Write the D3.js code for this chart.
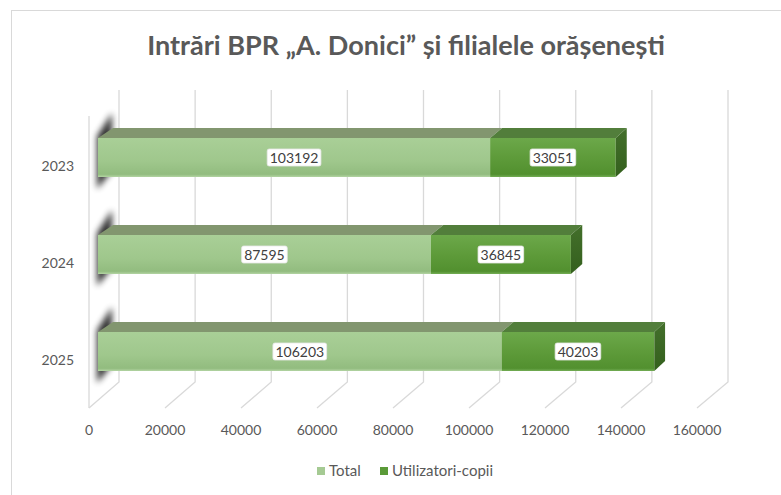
<!DOCTYPE html>
<meta charset="utf-8">
<style>
  body { margin: 0; background: #fff; }
  text { font-family: Lato, "Open Sans", sans-serif; fill: #595959; }
  .grid { stroke: #d9d9d9; stroke-width: 1.3; fill: none; }
  .tick-label { font-size: 14px; }
  .cat-label { font-size: 14px; }
  .data-label { font-size: 14px; fill: #404040; }
  .legend-label { font-size: 15px; }
  .title { font-weight: bold; }
</style>
<body>
<script src="https://d3js.org/d3.v7.min.js"></script>
<script>
// data
var years = ["2023", "2024", "2025"];
var total = [103192, 87595, 106203];
var copii = [33051, 36845, 40203];
var seriesNames = ["Total", "Utilizatori-copii"];
var tickValues = [0, 20000, 40000, 60000, 80000, 100000, 120000, 140000, 160000];
var titleText = "Intrări BPR „A. Donici” și filialele orășenești";

var width = 781,
    height = 495;

var svg = d3.select("body").append("svg")
    .attr("width", width)
    .attr("height", height);

var defs = svg.append("defs");

function vGrad(id, stops) {
  var g = defs.append("linearGradient").attr("id", id)
      .attr("x1", 0).attr("y1", 0).attr("x2", 0).attr("y2", 1);
  stops.forEach(function(s) {
    g.append("stop").attr("offset", s[0]).attr("stop-color", s[1]);
  });
}
vGrad("gTotal", [[0, "#a9cf97"], [0.6, "#9fc78c"], [0.93, "#92bc7f"], [1, "#b3d4a3"]]);
vGrad("gCopii", [[0, "#6ca84a"], [0.5, "#5e9b3a"], [0.93, "#52902f"], [1, "#74ad55"]]);
vGrad("gSide", [[0, "#436f2b"], [1, "#34601d"]]);

defs.append("filter").attr("id", "blur")
    .attr("x", "-100%").attr("y", "-50%").attr("width", "300%").attr("height", "200%")
  .append("feGaussianBlur").attr("stdDeviation", 3);

// chart border
svg.append("rect")
    .attr("x", 11.5).attr("y", 10.5)
    .attr("width", 790).attr("height", 500)
    .attr("fill", "none").attr("stroke", "#d9d9d9");

// title
var title = svg.append("text")
    .attr("class", "title")
    .attr("x", 406).attr("y", 55)
    .attr("text-anchor", "middle")
    .style("font-size", "24px")
    .text(titleText);
var tw = title.node().getComputedTextLength();
title.style("font-size", (24 * 518 / tw) + "px");

// scales: back wall, floor front edge, bar front face
var xBack = d3.scaleLinear().domain([0, 160000]).range([119, 728]);
var xFront = d3.scaleLinear().domain([0, 160000]).range([89, 697]);
var xBar = d3.scaleLinear().domain([0, 160000]).range([98, 706]);
var y = d3.scaleBand().domain(years).range([109, 400]);

var wallTop = 90, floorBack = 382, floorFront = 408;
var barH = 39, depthY = -10;
var depthX = d3.scaleLinear().domain([98, 620]).range([15, 11]);

// gridlines on back wall and floor
var grid = svg.append("g");
grid.selectAll(".gl")
    .data(tickValues)
  .enter().append("path")
    .attr("class", "grid")
    .attr("d", function(d) {
      return "M" + xBack(d) + "," + wallTop + "V" + floorBack + "L" + xFront(d) + "," + floorFront;
    });
// front edge of the side wall
grid.append("path")
    .attr("class", "grid")
    .attr("d", "M" + xFront(0) + ",116V" + floorFront);

// axis tick labels
svg.selectAll(".tick-label")
    .data(tickValues)
  .enter().append("text")
    .attr("class", "tick-label")
    .attr("x", function(d) { return xFront(d); })
    .attr("y", 435)
    .attr("text-anchor", "middle")
    .text(function(d) { return d; });

// category labels
svg.selectAll(".cat-label")
    .data(years)
  .enter().append("text")
    .attr("class", "cat-label")
    .attr("x", 74)
    .attr("y", function(d) { return y(d) + y.bandwidth() / 2 + 13.5; })
    .attr("text-anchor", "end")
    .text(function(d) { return d; });

function faceTop(i) { return y(years[i]) + (y.bandwidth() - barH) / 2; }

// shadows of the bar ends
svg.selectAll(".shadow")
    .data(years)
  .enter().append("path")
    .attr("class", "shadow")
    .attr("fill", "#000")
    .attr("opacity", 0.8)
    .attr("filter", "url(#blur)")
    .attr("d", function(d, i) {
      var x0 = xBar(0), t = faceTop(i), b = t + barH;
      return "M" + (x0 - 1) + "," + (b + 12) + "V" + (t - 2) +
             "L" + (x0 + 14) + "," + (t - 25) + "V" + (b - 6) + "Z";
    });

// bars
var segs = [];
years.forEach(function(yr, i) {
  segs.push({ i: i, s: 0, v0: 0, v1: total[i], fill: "url(#gTotal)", topFill: "#82966f" });
  segs.push({ i: i, s: 1, v0: total[i], v1: total[i] + copii[i], fill: "url(#gCopii)", topFill: "#527e3b" });
});

var bar = svg.selectAll(".seg")
    .data(segs)
  .enter().append("g")
    .attr("class", "seg");

bar.append("path")
    .attr("fill", function(d) { return d.topFill; })
    .attr("d", function(d) {
      var x0 = xBar(d.v0), x1 = xBar(d.v1), t = faceTop(d.i);
      return "M" + x0 + "," + t + "L" + (x0 + depthX(x0)) + "," + (t + depthY) +
             "L" + (x1 + depthX(x1)) + "," + (t + depthY) + "L" + x1 + "," + t + "Z";
    });

bar.append("rect")
    .attr("fill", function(d) { return d.fill; })
    .attr("x", function(d) { return xBar(d.v0); })
    .attr("y", function(d) { return faceTop(d.i); })
    .attr("width", function(d) { return xBar(d.v1) - xBar(d.v0); })
    .attr("height", barH);

bar.filter(function(d) { return d.s === 1; }).append("path")
    .attr("fill", "url(#gSide)")
    .attr("d", function(d) {
      var x1 = xBar(d.v1), t = faceTop(d.i), b = t + barH, dx = depthX(x1);
      return "M" + x1 + "," + t + "L" + (x1 + dx) + "," + (t + depthY) +
             "V" + (b + depthY) + "L" + x1 + "," + b + "Z";
    });

// data labels
var lab = bar.append("g")
    .attr("transform", function(d) {
      return "translate(" + ((xBar(d.v0) + xBar(d.v1)) / 2) + "," + (faceTop(d.i) + barH / 2) + ")";
    });
lab.append("text")
    .attr("class", "data-label")
    .attr("text-anchor", "middle")
    .attr("dy", "0.36em")
    .text(function(d) { return d.v1 - d.v0; })
    .each(function() {
      var w = this.getComputedTextLength();
      d3.select(this.parentNode).insert("rect", "text")
          .attr("x", -w / 2 - 2.5).attr("y", -8.5)
          .attr("width", w + 5).attr("height", 17)
          .attr("rx", 2)
          .attr("fill", "#fff")
          .attr("stroke", "#e8e8e8")
          .attr("stroke-width", 0.8);
    });

// legend
var legendColors = ["#a5ca93", "#5a9a38"];
var legendX = [317, 380];
var legend = svg.selectAll(".legend")
    .data(seriesNames)
  .enter().append("g")
    .attr("class", "legend")
    .attr("transform", function(d, i) { return "translate(" + legendX[i] + ",467)"; });
legend.append("rect")
    .attr("width", 8).attr("height", 8)
    .attr("fill", function(d, i) { return legendColors[i]; });
legend.append("text")
    .attr("class", "legend-label")
    .attr("x", 12).attr("y", 9)
    .text(function(d) { return d; });
</script>
